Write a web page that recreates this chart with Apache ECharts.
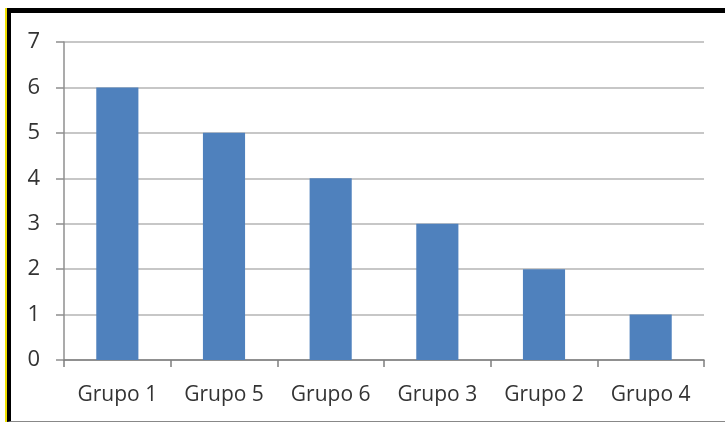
<!DOCTYPE html>
<html>
<head>
<meta charset="utf-8">
<script src="https://cdn.jsdelivr.net/npm/echarts@6/dist/echarts.min.js"></script>
<style>
html,body{margin:0;padding:0;background:#fff;}
#wrap{position:relative;width:725px;height:424px;overflow:hidden;background:#fff;}
#frame{position:absolute;left:7px;top:8px;right:-10px;bottom:2px;border-top:5px solid #000;border-left:4px solid #000;border-bottom:1px solid #888;box-shadow:-2px 0 0 #f0e000;}
#chart{position:absolute;left:0;top:0;width:725px;height:424px;}
</style>
</head>
<body>
<div id="wrap">
<div id="frame"></div>
<div id="chart"></div>
</div>
<script>
const categories = ['Grupo 1','Grupo 5','Grupo 6','Grupo 3','Grupo 2','Grupo 4'];
const values = [6,5,4,3,2,1];
const yTicks = [0,1,2,3,4,5,6,7];

const chart = echarts.init(document.getElementById('chart'), null, {renderer:'canvas'});
chart.setOption({
  animation:false,
  backgroundColor:'transparent',
  grid:{left:64,right:21,top:42,bottom:64,containLabel:false},
  xAxis:{
    type:'category',
    data:categories,
    axisLine:{show:true,lineStyle:{color:'#7f7f7f',width:1.5}},
    axisTick:{show:true,alignWithLabel:false,length:7,lineStyle:{color:'#7f7f7f',width:1.5}},
    axisLabel:{color:'#333333',fontFamily:'Open Sans, Liberation Sans, sans-serif',fontSize:21,margin:25}
  },
  yAxis:{
    type:'value',
    min:yTicks[0],max:yTicks[yTicks.length-1],interval:1,
    axisLine:{show:true,lineStyle:{color:'#8f8f8f',width:1.5}},
    axisTick:{show:true,length:8,lineStyle:{color:'#8f8f8f',width:1.5}},
    splitLine:{show:true,lineStyle:{color:'#b4b4b4',width:1.5}},
    axisLabel:{color:'#333333',fontFamily:'Open Sans, Liberation Sans, sans-serif',fontSize:22,margin:24}
  },
  series:[{
    type:'bar',
    data:values,
    barWidth:'39.5%',
    itemStyle:{color:'#4f81bd'}
  }]
});
</script>
</body>
</html>
